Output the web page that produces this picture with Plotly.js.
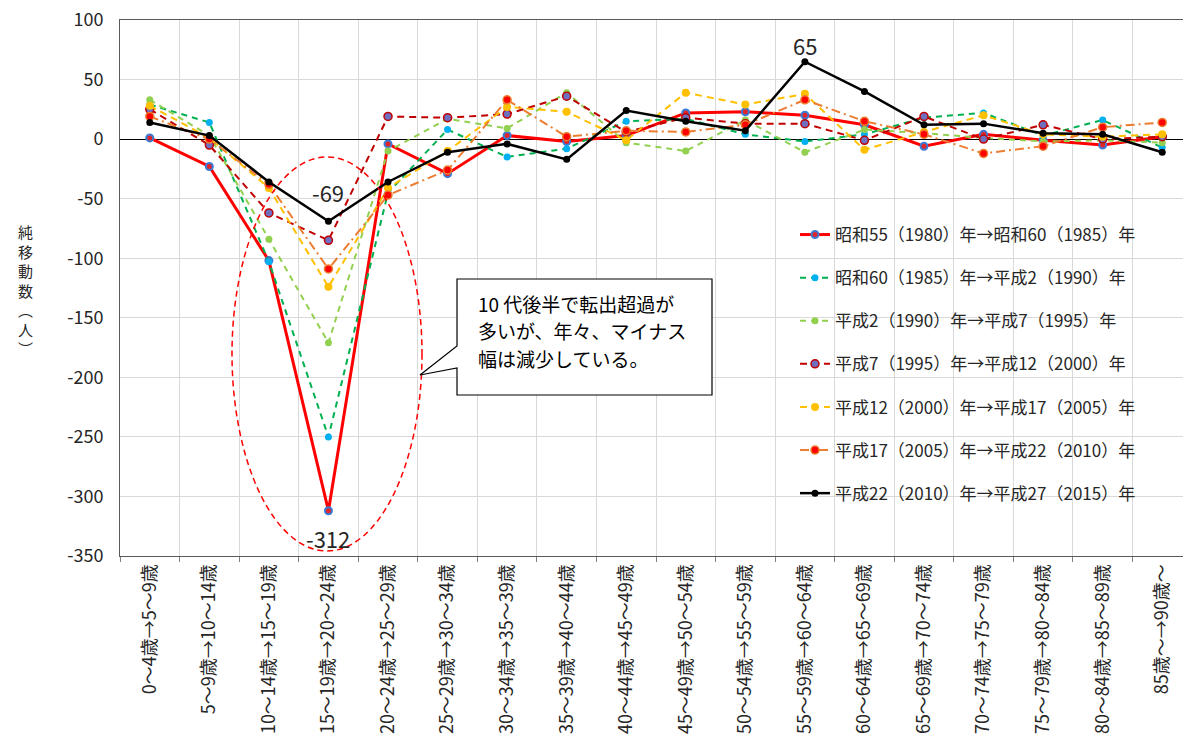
<!DOCTYPE html>
<html><head><meta charset="utf-8">
<script src="https://cdn.plot.ly/plotly-3.0.1.min.js"></script>
<style>html,body{margin:0;padding:0;overflow:hidden;background:#fff;}#chart{width:1195px;height:753px;}</style>
</head><body><div id="chart"></div>
<script>
const ages = ["0～4歳→5～9歳","5～9歳→10～14歳","10～14歳→15～19歳","15～19歳→20～24歳","20～24歳→25～29歳","25～29歳→30～34歳","30～34歳→35～39歳","35～39歳→40～44歳","40～44歳→45～49歳","45～49歳→50～54歳","50～54歳→55～59歳","55～59歳→60～64歳","60～64歳→65～69歳","65～69歳→70～74歳","70～74歳→75～79歳","75～79歳→80～84歳","80～84歳→85～89歳","85歳～→90歳～"];
const seriesNames = ["昭和55（1980）年→昭和60（1985）年","昭和60（1985）年→平成2（1990）年","平成2（1990）年→平成7（1995）年","平成7（1995）年→平成12（2000）年","平成12（2000）年→平成17（2005）年","平成17（2005）年→平成22（2010）年","平成22（2010）年→平成27（2015）年"];
const s1980 = [1,-23,-102,-312,-4,-29,3,-2,3,22,23,20,12,-6,4,-1,-5,2];
const s1985 = [29,14,-103,-250,-45,8,-15,-8,15,17,4,-2,4,18,22,3,16,-7];
const s1990 = [33,3,-84,-171,-10,17,9,39,-3,-10,16,-11,8,5,1,-2,-1,-3];
const s1995 = [25,-5,-62,-85,19,18,21,36,6,18,13,13,-1,19,0,12,0,2];
const s2000 = [28,1,-41,-124,-41,-10,27,23,-1,39,29,38,-9,6,20,4,2,4];
const s2005 = [19,0,-38,-109,-47,-26,33,2,7,6,12,33,15,4,-12,-6,10,14];
const s2010 = [14,3,-36,-69,-36,-11,-4,-17,24,15,7,65,40,12,13,5,4,-11];
const yTicks = [100,50,0,-50,-100,-150,-200,-250,-300,-350];
const calloutLines = ["10 代後半で転出超過が","多いが、年々、マイナス","幅は減少している。"];
const yTitle = ["純","移","動","数","︵","人","︶"];

const FONT = '"Noto Sans CJK JP", "Noto Sans", sans-serif';
const PL=120, PW=1072, PT=20, PH=536;
const px = x => (x-PL)/PW;
const py = y => (PT+PH-y)/PH;

const styles = [
  {line:{color:'#ff0000',width:3,dash:'solid'}, marker:{color:'#e0262c',size:7,line:{color:'#3a7bd5',width:2}}},
  {line:{color:'#00b050',width:2,dash:'6px,5px'}, marker:{color:'#00b0f0',size:7,line:{color:'#00b0f0',width:0}}},
  {line:{color:'#92d050',width:2,dash:'6px,5px'}, marker:{color:'#92d050',size:7,line:{width:0}}},
  {line:{color:'#c00000',width:2,dash:'7px,5px'}, marker:{color:'#6f6fc0',size:8,line:{color:'#c00000',width:1.5}}},
  {line:{color:'#ffc000',width:2,dash:'7px,5px'}, marker:{color:'#ffc000',size:8,line:{width:0}}},
  {line:{color:'#ed7d31',width:2,dash:'9px,4px,2px,4px'}, marker:{color:'#ff0000',size:8,line:{color:'#ed7d31',width:1.5}}},
  {line:{color:'#000000',width:2.5,dash:'solid'}, marker:{color:'#000000',size:7,line:{width:0}}}
];
const values = [s1980,s1985,s1990,s1995,s2000,s2005,s2010];
const data = values.map((v,i)=>({
  type:'scatter', mode:'lines+markers', x:ages, y:v, name:seriesNames[i],
  legendgroup:'g'+i, line:styles[i].line, marker:styles[i].marker, hoverinfo:'skip'
}));

const annotations = [
  {x:ages[3], y:s2010[3], text:String(s2010[3]), showarrow:false, yshift:29, font:{size:22,color:'#262626',family:FONT}},
  {x:ages[3], y:s1980[3], text:String(s1980[3]), showarrow:false, yshift:-27, font:{size:22,color:'#262626',family:FONT}},
  {x:ages[11], y:s2010[11], text:String(s2010[11]), showarrow:false, yshift:17, font:{size:22,color:'#262626',family:FONT}}
];
calloutLines.forEach((t,i)=>annotations.push({xref:'paper',yref:'paper',x:px(476),y:py(303+i*27.5),xanchor:'left',yanchor:'middle',text:t,showarrow:false,font:{size:19,color:'#000',family:FONT}}));
annotations.push({xref:'paper',yref:'paper',x:px(25),y:py(290),xanchor:'center',yanchor:'middle',text:yTitle.join('<br>'),showarrow:false,font:{size:15,color:'#262626',family:FONT}});

const pts = [[457,279],[712,279],[712,395],[457,395],[457,368],[420,375],[457,346]];
const path = 'M '+pts.map(p=>px(p[0]).toFixed(5)+','+py(p[1]).toFixed(5)).join(' L ')+' Z';

const shapes = [
  {type:'rect',xref:'paper',yref:'paper',x0:px(770),x1:px(1150),y0:py(515),y1:py(212),fillcolor:'#ffffff',line:{width:0},layer:'between'},
  {type:'circle',xref:'paper',yref:'paper',x0:px(232),x1:px(422),y0:py(551),y1:py(157),line:{color:'#ff0000',width:1.5,dash:'6px,4px'}},
  {type:'path',xref:'paper',yref:'paper',path:path,fillcolor:'#ffffff',line:{color:'#000000',width:1.2},layer:'above'}
];

const layout = {
  width:1195, height:753,
  margin:{l:PL, r:1195-PL-PW, t:PT, b:753-PT-PH},
  paper_bgcolor:'#fff', plot_bgcolor:'#fff',
  font:{family:FONT,color:'#262626'},
  showlegend:true,
  legend:{x:px(795), y:py(217), xanchor:'left', yanchor:'top', bgcolor:'rgba(255,255,255,0)', font:{size:17,family:FONT,color:'#262626'}, tracegroupgap:18, traceorder:'grouped'},
  xaxis:{type:'category', tickson:'boundaries', showgrid:true, gridcolor:'#d9d9d9', gridwidth:1, tickangle:-90,
         ticks:'outside', ticklen:5, tickcolor:'#808080', showline:true, linecolor:'#595959', linewidth:1, mirror:true,
         tickfont:{size:18,family:FONT,color:'#262626'}, range:[-0.5,17.5], fixedrange:true},
  yaxis:{range:[-350,100], tickvals:yTicks, ticktext:yTicks.map(String), showgrid:true, gridcolor:'#d9d9d9', gridwidth:1,
         zeroline:true, zerolinecolor:'#000', zerolinewidth:1, showline:true, linecolor:'#595959', linewidth:1, mirror:true,
         ticks:'', ticklabelstandoff:12, tickfont:{size:18,family:FONT,color:'#262626'}, fixedrange:true},
  annotations:annotations, shapes:shapes
};
Plotly.newPlot('chart', data, layout, {displayModeBar:false, staticPlot:true});
</script></body></html>
